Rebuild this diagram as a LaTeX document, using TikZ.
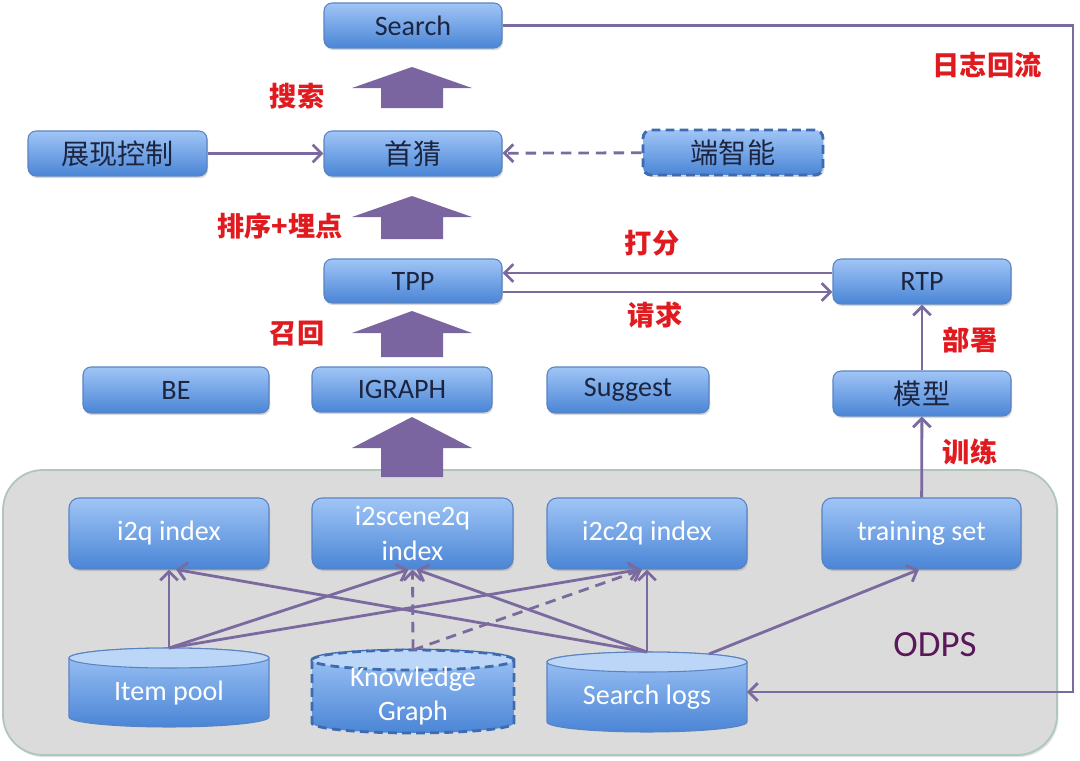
\documentclass[tikz,border=0pt]{standalone}
\usepackage{fontspec}
\setmainfont{Carlito}
\newfontfamily\cjk{Noto Sans CJK SC}
\usetikzlibrary{arrows.meta,shadows,calc}
\definecolor{boxtop}{HTML}{A0C5F6}
\definecolor{boxbot}{HTML}{4A85D6}
\definecolor{boxline}{HTML}{5A83C2}
\definecolor{cyltop}{HTML}{BCD6F7}
\definecolor{txtdark}{HTML}{1C2540}
\definecolor{arrowp}{HTML}{7B65A0}
\definecolor{linep}{HTML}{7B6A9F}
\definecolor{lblred}{HTML}{E01A1F}
\definecolor{odpsbg}{HTML}{DBDBDB}
\definecolor{odpsline}{HTML}{AFC6BB}
\definecolor{odpstxt}{HTML}{5A1858}
\definecolor{dashblue}{HTML}{3E6BB0}
\newcommand\blockarr[3]{\fill[arrowp] (412,-#1) -- (472,-#2) -- (443,-#2) -- (443,-#3) -- (381,-#3) -- (381,-#2) -- (352,-#2) -- cycle;}
\newcommand\cylbody[2]{%
  \path[#2] let \p1=(#1.north west), \p2=(#1.south east) in
    (\x1,\y1-0.2cm) -- (\x1,\y2+0.2cm)
    arc[start angle=180,end angle=360,x radius={(\x2-\x1)/2},y radius=0.2cm]
    -- (\x2,\y1-0.2cm)
    arc[start angle=0,end angle=180,x radius={(\x2-\x1)/2},y radius=0.2cm] -- cycle;
}
\newcommand\cyltopell[2]{%
  \path[#2] let \p1=(#1.north west), \p2=(#1.south east) in
    ({(\x1+\x2)/2},\y1-0.2cm) ellipse[x radius={(\x2-\x1)/2},y radius=0.2cm];
}
\begin{document}
\begin{tikzpicture}[x=0.02cm,y=0.02cm,
  box/.style={rounded corners=0.16cm, draw=boxline, line width=0.6pt,
    top color=boxtop, bottom color=boxbot, text=txtdark,
    font=\fontsize{16}{19.5}\selectfont, align=center, inner sep=0pt,
    drop shadow={shadow xshift=0.6pt, shadow yshift=-1.2pt, opacity=0.3}},
  bbox/.style={box, text=white, rounded corners=0.2cm},
  dbox/.style={box, draw=dashblue, line width=1.6pt, dash pattern=on 5pt off 3pt},
  lbl/.style={text=lblred, font=\fontsize{15.5}{18}\selectfont\cjk\bfseries},
  conn/.style={draw=linep, line width=1.6pt, -{Straight Barb[length=5pt,width=10pt]}},
  dconn/.style={conn, dash pattern=on 6pt off 4pt},
  cylanchor/.style={inner sep=0pt, outer sep=0pt},
  cylfill/.style={top color=boxtop, bottom color=boxbot},
  cyltext/.style={text=white, font=\fontsize{16}{19.5}\selectfont, align=center},
  container/.style={fill=odpsbg, draw=odpsline, line width=1pt, rounded corners=0.8cm}
]
\useasboundingbox (0,0) rectangle (1080,-761);
\fill[white] (0,0) rectangle (1080,-761);

% ODPS container
\path[container, drop shadow={shadow xshift=0.8pt, shadow yshift=-1.2pt, opacity=0.25}] (3,-470) rectangle (1057,-755);
\node[text=odpstxt, font=\fontsize{21}{24}\selectfont] (odpsl) at (935,-645) {ODPS};

% block arrows
\blockarr{67}{88}{108}
\blockarr{196}{217}{239}
\blockarr{311}{333}{357}
\blockarr{417}{448}{477}

% upper boxes
\node[box, minimum width=3.56cm, minimum height=0.9cm] (search) at (413,-25.5) {Search};
\node[box, minimum width=3.58cm, minimum height=0.9cm] (zk) at (117.5,-153.5) {\cjk 展现控制};
\node[box, minimum width=3.56cm, minimum height=0.9cm] (sc) at (413,-153.5) {\cjk 首猜};
\node[dbox, minimum width=3.6cm, minimum height=0.9cm] (dzn) at (733,-152.5) {\cjk 端智能};
\node[box, minimum width=3.56cm, minimum height=0.88cm] (tpp) at (413,-281) {TPP};
\node[box, minimum width=3.56cm, minimum height=0.9cm] (rtp) at (922,-281.5) {RTP};
\node[box, minimum width=3.72cm, minimum height=0.92cm] (be) at (176,-390) {BE};
\node[box, minimum width=3.6cm, minimum height=0.9cm] (igraph) at (402,-389.5) {IGRAPH};
\node[box, minimum width=3.24cm, minimum height=0.92cm] (suggest) at (628,-390) {Suggest};
\node[box, minimum width=3.56cm, minimum height=0.9cm] (mx) at (922,-393.5) {\cjk 模型};

% lower boxes
\node[bbox, minimum width=4.0cm, minimum height=1.42cm] (i2q) at (169,-533.5) {i2q index};
\node[bbox, minimum width=4.02cm, minimum height=1.42cm] (i2s) at (412.5,-533.5) {i2scene2q\\index};
\node[bbox, minimum width=4.0cm, minimum height=1.42cm] (i2c) at (647,-533.5) {i2c2q index};
\node[bbox, minimum width=3.98cm, minimum height=1.42cm] (ts) at (921.5,-533.5) {training set};

% cylinders
\node[cylanchor, minimum width=4.0cm, minimum height=1.58cm] (ip) at (169,-687.5) {};
\node[cylanchor, minimum width=4.04cm, minimum height=1.66cm] (kg) at (413,-691.5) {};
\node[cylanchor, minimum width=4.0cm, minimum height=1.6cm] (logs) at (647,-692) {};
\cylbody{ip}{cylfill, draw=boxline, line width=0.6pt}
\cyltopell{ip}{fill=cyltop, draw=boxline, line width=0.6pt}
\cylbody{kg}{cylfill, draw=dashblue, line width=1.6pt, dash pattern=on 5pt off 3pt}
\cyltopell{kg}{fill=cyltop, draw=dashblue, line width=1.6pt, dash pattern=on 5pt off 3pt}
\cylbody{logs}{cylfill, draw=boxline, line width=0.6pt}
\cyltopell{logs}{fill=cyltop, draw=boxline, line width=0.6pt}
\node[cyltext] (ipt) at ([yshift=-0.11cm]ip.center) {Item pool};
\node[cyltext] (kgt) at ([yshift=-0.09cm]kg.center) {Knowledge\\Graph};
\node[cyltext] (logst) at ([yshift=-0.1cm]logs.center) {Search logs};

% labels
\node[lbl] (l1) at (297,-96) {搜索};
\node[lbl] (l2) at (280,-226) {排序+埋点};
\node[lbl] (l3) at (297,-334) {召回};
\node[lbl] (l4) at (652,-243) {打分};
\node[lbl] (l5) at (655,-315) {请求};
\node[lbl] (l6) at (970,-340) {部署};
\node[lbl] (l7) at (970,-452) {训练};
\node[lbl] (l8) at (987,-65) {日志回流};

% connectors (upper)
\draw[conn] (zk) -- (sc);
\draw[dconn] (dzn) -- (sc);
\draw[conn] ([yshift=0.17cm]rtp.west) -- ([yshift=0.17cm]rtp.west -| tpp.east);
\draw[conn] ([yshift=-0.22cm]tpp.east) -- ([yshift=-0.22cm]tpp.east -| rtp.west);
\draw[conn] (mx) -- (rtp);
\draw[conn] (ts) -- (mx);
\coordinate (rc) at (1073,-25.5);
\draw[conn] (search.east) -- (rc) |- (logs.east);

% connectors (ODPS)
\draw[conn] (ip.north) -- (i2q.south);
\draw[conn] (ip.north) -- ([xshift=-0.08cm]i2s.south);
\draw[conn] (ip.north) -- ([xshift=-0.14cm]i2c.south);
\draw[conn] (logs.north) -- ([xshift=0.14cm]i2q.south);
\draw[conn] (logs.north) -- ([xshift=0.08cm]i2s.south);
\draw[conn] (logs.north) -- (i2c.south);
\draw[conn] ([xshift=1.24cm,yshift=-0.04cm]logs.north) -- ([xshift=-0.05cm]ts.south);
\draw[dconn] (kg.north) -- (i2s.south);
\draw[dconn] (kg.north) -- ([xshift=-0.1cm]i2c.south);
\end{tikzpicture}
\end{document}
